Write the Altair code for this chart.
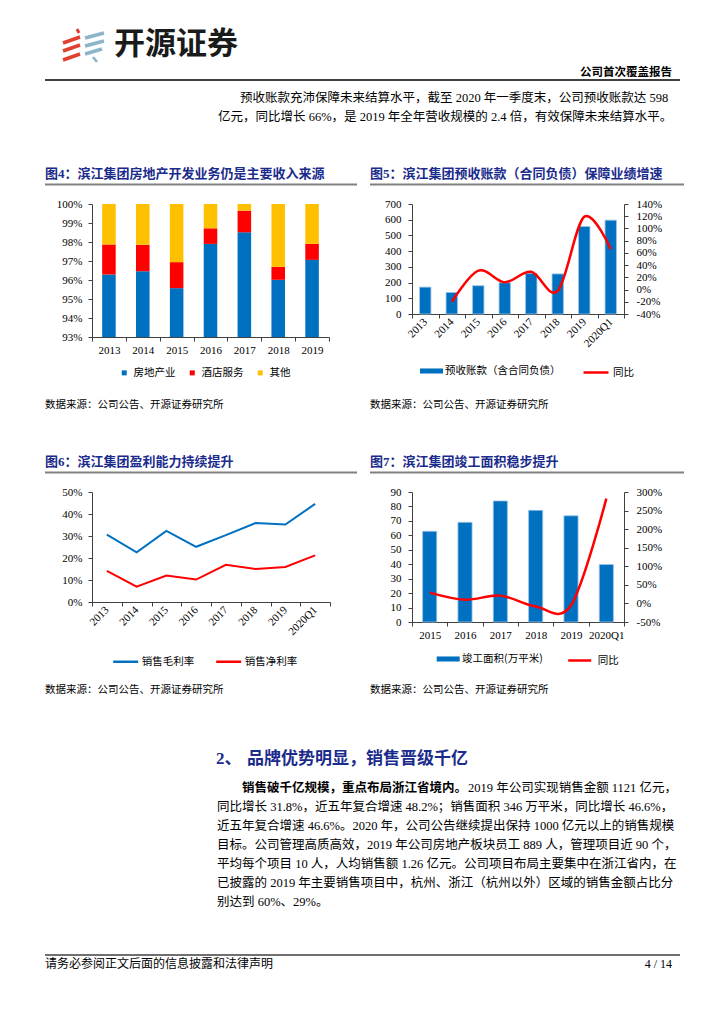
import altair as alt
import pandas as pd

SERIF = "'Liberation Serif', 'Noto Sans CJK SC', serif"
CJK = "'Noto Sans CJK SC', sans-serif"
NAVY = '#1A2B8C'
BLUE = '#0070C0'
RED = '#FF0000'
YELLOW = '#FFC000'
GRAYLINE = '#808080'

# ---------------- data ----------------
years4 = ['2013', '2014', '2015', '2016', '2017', '2018', '2019']
realestate4 = [96.29, 96.46, 95.57, 97.90, 98.51, 96.01, 97.06]
hotel4 = [1.58, 1.39, 1.37, 0.82, 1.14, 0.68, 0.84]
other4 = [2.13, 2.15, 3.06, 1.28, 0.35, 3.31, 2.10]
seg4 = ['房地产业', '酒店服务', '其他']

years5 = ['2013', '2014', '2015', '2016', '2017', '2018', '2019', '2020Q1']
adv5 = [171, 137, 180, 199, 259, 255, 557, 597]
yoy5_years = ['2014', '2015', '2016', '2017', '2018', '2019', '2020Q1']
yoy5 = [-20, 31, 12, 29, -2, 119, 66]
bar_name5 = '预收账款（含合同负债）'
line_name = '同比'

years6 = ['2013', '2014', '2015', '2016', '2017', '2018', '2019', '2020Q1']
gross6 = [30.6, 22.6, 32.3, 25.1, 30.4, 35.9, 35.2, 44.6]
net6 = [14.2, 7.0, 12.0, 10.2, 16.9, 15.0, 15.9, 21.2]
series6 = ['销售毛利率', '销售净利率']

years7 = ['2015', '2016', '2017', '2018', '2019', '2020Q1']
area7 = [62.8, 69.0, 83.8, 77.3, 73.5, 39.8]
yoy7 = [29, 10, 21, -8, -5, 282]
bar_name7 = '竣工面积(万平米)'

logo_text = '开源证券'
report_type = '公司首次覆盖报告'
header_para = [
    '预收账款充沛保障未来结算水平，截至 2020 年一季度末，公司预收账款达 598',
    '亿元，同比增长 66%，是 2019 年全年营收规模的 2.4 倍，有效保障未来结算水平。',
]
titles = [
    '图4：滨江集团房地产开发业务仍是主要收入来源',
    '图5：滨江集团预收账款（合同负债）保障业绩增速',
    '图6：滨江集团盈利能力持续提升',
    '图7：滨江集团竣工面积稳步提升',
]
source = '数据来源：公司公告、开源证券研究所'
section_num = '2、'
section_title = '品牌优势明显，销售晋级千亿'
body_lead_bold = '销售破千亿规模，重点布局浙江省境内。'
body_lead_rest = '2019 年公司实现销售金额 1121 亿元，'
body = [
    '同比增长 31.8%，近五年复合增速 48.2%；销售面积 346 万平米，同比增长 46.6%，',
    '近五年复合增速 46.6%。2020 年，公司公告继续提出保持 1000 亿元以上的销售规模',
    '目标。公司管理高质高效，2019 年公司房地产板块员工 889 人，管理项目近 90 个，',
    '平均每个项目 10 人，人均销售额 1.26 亿元。公司项目布局主要集中在浙江省内，在',
    '已披露的 2019 年主要销售项目中，杭州、浙江（杭州以外）区域的销售金额占比分',
    '别达到 60%、29%。',
]
footer_text = '请务必参阅正文后面的信息披露和法律声明'
page_no = '4 / 14'

# ---------------- helpers ----------------
one = pd.DataFrame({'k': [0]})


def T(s, x, y, size=12.5, font=SERIF, weight='normal', color='#000', align='left'):
    return alt.Chart(one).mark_text(
        fontSize=size, font=font, fontWeight=weight, color=color,
        align=align, baseline='middle'
    ).encode(x=alt.value(x - 8), y=alt.value(y - 8), text=alt.value(s))


def R(x1, y1, x2, y2, color='#000', w=1.0, cap='butt'):
    return alt.Chart(one).mark_rule(color=color, strokeWidth=w, strokeCap=cap).encode(
        x=alt.value(x1 - 8), y=alt.value(y1 - 8), x2=alt.value(x2 - 8), y2=alt.value(y2 - 8))


def spacer(w, h):
    return alt.Chart(one).mark_point(opacity=0, size=1, strokeWidth=0).encode(
        x=alt.value(1), y=alt.value(1)).properties(width=w, height=h)


BAR_SYM = 'M-1,-0.22H1V0.22H-1Z'

# ---------------- header / page text ----------------
LRED = '#E0402F'
LBLUE = '#8EB4CB'
layers = [
    R(77, 29, 79, 33, LRED, 3),
    R(63, 43, 80, 37, LRED, 3.5),
    R(63, 51, 80, 45, LRED, 3.5),
    R(63, 60, 80, 54, LRED, 3.5),
    R(85, 38, 104, 33, LBLUE, 3.5),
    R(85, 46, 104, 41, LBLUE, 3.5),
    R(85, 54, 102, 49, LBLUE, 3.5),
    R(93, 57, 97, 62, LBLUE, 2.5),
    T(logo_text, 114, 45, size=31, font=CJK, weight='bold', color='#1A1A1A'),
    T(report_type, 672, 73, size=11.5, font=CJK, weight='bold', align='right'),
    R(45, 80, 680, 80, '#000', 1.5),
    T(header_para[0], 240, 98),
    T(header_para[1], 218, 117),
    T(titles[0], 45, 174, size=13, weight='bold', color=NAVY),
    T(titles[1], 370, 174, size=13, weight='bold', color=NAVY),
    R(45, 184.5, 357, 184.5, GRAYLINE, 2),
    R(370, 184.5, 684, 184.5, GRAYLINE, 2),
    T(source, 45, 405, size=10.5),
    T(source, 370, 405, size=10.5),
    T(titles[2], 45, 462, size=13, weight='bold', color=NAVY),
    T(titles[3], 370, 462, size=13, weight='bold', color=NAVY),
    R(45, 472.5, 357, 472.5, GRAYLINE, 2),
    R(370, 472.5, 684, 472.5, GRAYLINE, 2),
    T(source, 45, 690, size=10.5),
    T(source, 370, 690, size=10.5),
    T(section_num, 216, 759, size=17, weight='bold', color=NAVY),
    T(section_title, 247, 759, size=17, weight='bold', color=NAVY),
    T(body_lead_bold, 242, 788, weight='bold'),
    T(body_lead_rest, 468, 788),
]
for i, line in enumerate(body):
    layers.append(T(line, 217, 807 + 19 * i))
layers += [
    R(45, 955, 680, 955, '#404040', 1.5),
    T(footer_text, 45, 964, size=12),
    T(page_no, 672, 964, size=12, align='right'),
]
header = alt.layer(*layers).properties(width=1, height=196)

# ---------------- figure 4 ----------------
rows4 = []
for i, y in enumerate(years4):
    for k, (s, v) in enumerate(zip(seg4, [realestate4[i], hotel4[i], other4[i]])):
        rows4.append({'year': y, 'seg': s, 'val': v, 'ord': k})
df4 = pd.DataFrame(rows4)

fig4 = alt.Chart(df4).mark_bar(width=alt.RelativeBandSize(0.4), clip=True).encode(
    x=alt.X('year:N', sort=years4, title=None,
            scale=alt.Scale(paddingInner=0, paddingOuter=0),
            axis=alt.Axis(labelAngle=0, tickBand='extent', labelPadding=3)),
    y=alt.Y('val:Q', stack='zero', title=None,
            scale=alt.Scale(domain=[93, 100], clamp=True, nice=False, zero=False),
            axis=alt.Axis(values=list(range(93, 101)), labelExpr="datum.value + '%'", labelPadding=6)),
    color=alt.Color('seg:N', scale=alt.Scale(domain=seg4, range=[BLUE, RED, YELLOW]),
                    legend=alt.Legend(orient='none', legendX=27, legendY=163.5, direction='horizontal',
                                      title=None, symbolType='square', symbolSize=25, symbolStrokeWidth=0,
                                      labelOffset=4, columnPadding=11)),
    order=alt.Order('ord:Q'),
).properties(width=237, height=133)

# ---------------- figure 5 ----------------
df5b = pd.DataFrame({'year': years5, 'adv': adv5, 'name': bar_name5})
df5l = pd.DataFrame({'year': yoy5_years, 'yoy': yoy5, 'name': line_name})

x5 = alt.X('year:N', sort=years5, title=None, scale=alt.Scale(paddingInner=0, paddingOuter=0),
           axis=alt.Axis(labelAngle=-45, labelAlign='right', labelBaseline='middle',
                         tickBand='extent', labelPadding=2))
bars5 = alt.Chart(df5b).mark_bar(width=alt.RelativeBandSize(0.43), stroke='#9DC3E6', strokeWidth=0.8).encode(
    x=x5,
    y=alt.Y('adv:Q', title=None, scale=alt.Scale(domain=[0, 700], nice=False),
            axis=alt.Axis(values=list(range(0, 701, 100)), labelPadding=7)),
    color=alt.Color('name:N', scale=alt.Scale(range=[BLUE]),
                    legend=alt.Legend(orient='none', legendX=8, legendY=155.5, title=None,
                                      symbolType=BAR_SYM, symbolSize=529, symbolStrokeWidth=0, labelOffset=2)),
)
line5 = alt.Chart(df5l).mark_line(interpolate='cardinal', strokeWidth=2.5).encode(
    x=alt.X('year:N', sort=years5, bandPosition=0.5),
    y=alt.Y('yoy:Q', title=None, scale=alt.Scale(domain=[-40, 140], nice=False),
            axis=alt.Axis(orient='right', values=list(range(-40, 141, 20)),
                          labelExpr="datum.value + '%'", labelPadding=8)),
    color=alt.Color('name:N', scale=alt.Scale(range=[RED]),
                    legend=alt.Legend(orient='none', legendX=170, legendY=154.5, title=None,
                                      symbolType='stroke', symbolSize=625, symbolStrokeWidth=2.5, labelOffset=3)),
)
fig5 = alt.layer(bars5, line5).resolve_scale(y='independent', color='independent').properties(width=212, height=110)

# ---------------- figure 6 ----------------
rows6 = []
for i, y in enumerate(years6):
    rows6.append({'year': y, 'val': gross6[i], 'series': series6[0]})
    rows6.append({'year': y, 'val': net6[i], 'series': series6[1]})
df6 = pd.DataFrame(rows6)

fig6 = alt.Chart(df6).mark_line(strokeWidth=2).encode(
    x=alt.X('year:N', sort=years6, title=None, bandPosition=0.5,
            scale=alt.Scale(type='band', paddingInner=0, paddingOuter=0),
            axis=alt.Axis(labelAngle=-45, labelAlign='right', labelBaseline='middle',
                          tickBand='extent', labelPadding=2)),
    y=alt.Y('val:Q', title=None, scale=alt.Scale(domain=[0, 50], nice=False),
            axis=alt.Axis(values=list(range(0, 51, 10)), labelExpr="datum.value + '%'", labelPadding=6)),
    color=alt.Color('series:N', scale=alt.Scale(domain=series6, range=[BLUE, RED]),
                    legend=alt.Legend(orient='none', legendX=19.7, legendY=155.5, direction='horizontal',
                                      title=None, symbolType='stroke', symbolSize=625, symbolStrokeWidth=2.5,
                                      labelOffset=2, columnPadding=16)),
).properties(width=238, height=110)

# ---------------- figure 7 ----------------
df7b = pd.DataFrame({'year': years7, 'area': area7, 'name': bar_name7})
df7l = pd.DataFrame({'year': years7, 'yoy': yoy7, 'name': line_name})

x7 = alt.X('year:N', sort=years7, title=None, scale=alt.Scale(paddingInner=0, paddingOuter=0),
           axis=alt.Axis(labelAngle=0, tickBand='extent', labelPadding=3))
bars7 = alt.Chart(df7b).mark_bar(width=alt.RelativeBandSize(0.4), stroke='#9DC3E6', strokeWidth=0.8).encode(
    x=x7,
    y=alt.Y('area:Q', title=None, scale=alt.Scale(domain=[0, 90], nice=False),
            axis=alt.Axis(values=list(range(0, 91, 10)), labelPadding=7)),
    color=alt.Color('name:N', scale=alt.Scale(range=[BLUE]),
                    legend=alt.Legend(orient='none', legendX=24.7, legendY=155.5, title=None,
                                      symbolType=BAR_SYM, symbolSize=529, symbolStrokeWidth=0, labelOffset=2.4)),
)
line7 = alt.Chart(df7l).mark_line(interpolate='cardinal', strokeWidth=2.5).encode(
    x=alt.X('year:N', sort=years7, bandPosition=0.5),
    y=alt.Y('yoy:Q', title=None, scale=alt.Scale(domain=[-50, 300], nice=False),
            axis=alt.Axis(orient='right', values=list(range(-50, 301, 50)),
                          labelExpr="datum.value + '%'", labelPadding=8)),
    color=alt.Color('name:N', scale=alt.Scale(range=[RED]),
                    legend=alt.Legend(orient='none', legendX=154.7, legendY=155.5, title=None,
                                      symbolType='stroke', symbolSize=529, symbolStrokeWidth=2.5, labelOffset=5)),
)
fig7 = alt.layer(bars7, line7).resolve_scale(y='independent', color='independent').properties(width=212, height=130)

# ---------------- page layout ----------------
cells = [
    header, spacer(1, 1), spacer(1, 1), spacer(1, 1),
    spacer(84, 1), fig4, spacer(82, 1), fig5,
    spacer(1, 155), spacer(1, 1), spacer(1, 1), spacer(1, 1),
    spacer(84, 1), fig6, spacer(82, 1), fig7,
]

chart = alt.concat(
    *cells, columns=4, spacing=0, bounds='flush', align='each',
).resolve_scale(color='independent').properties(padding=0).configure_view(stroke=None).configure_axis(
    labelFont=SERIF, labelFontSize=11, labelColor='#000',
    domainColor='#404040', tickColor='#404040', domainWidth=1, tickWidth=1, tickSize=4,
    grid=False,
).configure_legend(
    labelFont=CJK, labelFontSize=10.5, labelColor='#000', padding=0,
)

chart.save('out.html', embed_options={'renderer': 'svg', 'actions': False})
